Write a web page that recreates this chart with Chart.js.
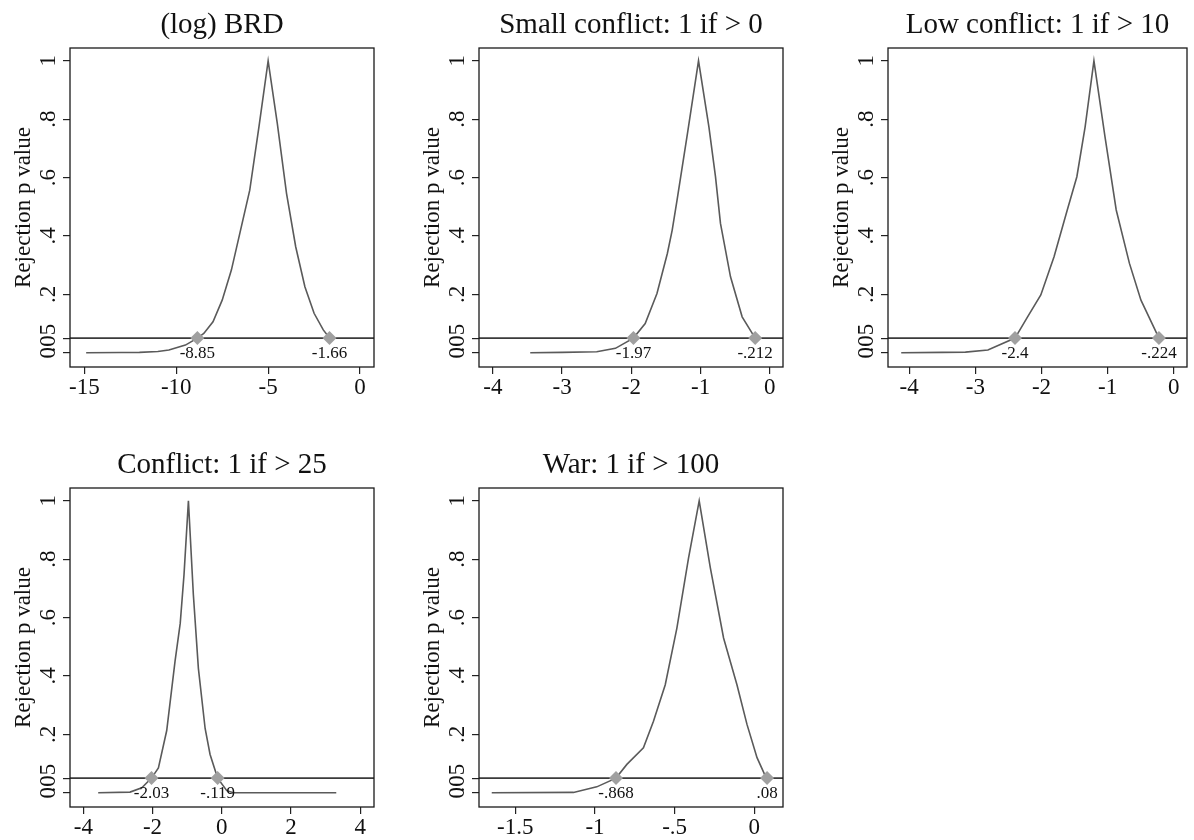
<!DOCTYPE html>
<html>
<head>
<meta charset="utf-8">
<script src="https://cdn.jsdelivr.net/npm/chart.js@4.4.0/dist/chart.umd.min.js"></script>
<style>
  body { margin: 0; background: #fff; width: 1194px; height: 840px; position: relative; overflow: hidden; }
  canvas { position: absolute; }
</style>
</head>
<body>
<canvas id="c1" width="400" height="400" style="left:0;top:0"></canvas>
<canvas id="c2" width="400" height="400" style="left:400px;top:0"></canvas>
<canvas id="c3" width="394" height="400" style="left:800px;top:0"></canvas>
<canvas id="c4" width="400" height="420" style="left:0;top:420px"></canvas>
<canvas id="c5" width="400" height="420" style="left:400px;top:420px"></canvas>
<script>
// y axis is shared by all panels
const yTicks = [0, 0.05, 0.2, 0.4, 0.6, 0.8, 1];
const yTickLabels = ['0', '.05', '.2', '.4', '.6', '.8', '1'];
const cutoff = 0.05;

// (log) BRD
const brdX = [-14.9, -13, -12, -11, -10.4, -9.5, -8.85, -8.5, -8.0, -7.5, -7.0, -6.5, -6.0, -5.5, -5.0, -4.5, -4.0, -3.5, -3.0, -2.5, -2.0, -1.66];
const brdP = [0, 0.0005, 0.001, 0.004, 0.009, 0.026, 0.05, 0.066, 0.106, 0.18, 0.283, 0.42, 0.557, 0.774, 1, 0.785, 0.546, 0.363, 0.226, 0.135, 0.078, 0.05];
const brdCI = [-8.85, -1.66];
const brdTicks = [-15, -10, -5, 0];

// Small conflict
const smallX = [-3.46, -3.0, -2.5, -2.23, -1.97, -1.8, -1.63, -1.48, -1.41, -1.34, -1.19, -1.03, -0.88, -0.785, -0.713, -0.568, -0.40, -0.212];
const smallP = [0, 0.001, 0.003, 0.015, 0.05, 0.10, 0.203, 0.34, 0.42, 0.523, 0.751, 1, 0.774, 0.603, 0.443, 0.26, 0.123, 0.05];
const smallCI = [-1.97, -0.212];
const smallTicks = [-4, -3, -2, -1, 0];

// Low conflict
const lowX = [-4.12, -3.5, -3.15, -2.81, -2.4, -2.21, -2.01, -1.81, -1.61, -1.465, -1.34, -1.207, -1.04, -0.87, -0.67, -0.496, -0.224];
const lowP = [0, 0.001, 0.002, 0.009, 0.05, 0.123, 0.198, 0.329, 0.489, 0.603, 0.774, 1, 0.74, 0.489, 0.306, 0.18, 0.05];
const lowCI = [-2.4, -0.224];
const lowTicks = [-4, -3, -2, -1, 0];

// Conflict
const conflictX = [-3.57, -2.65, -2.31, -2.03, -1.83, -1.59, -1.35, -1.2, -1.09, -0.963, -0.82, -0.675, -0.48, -0.337, -0.119, 0.146, 0.34, 3.31];
const conflictP = [0, 0.002, 0.017, 0.05, 0.085, 0.213, 0.45, 0.58, 0.747, 1, 0.678, 0.426, 0.22, 0.131, 0.05, 0.007, 0, 0];
const conflictCI = [-2.03, -0.119];
const conflictTicks = [-4, -2, 0, 2, 4];

// War
const warX = [-1.648, -1.135, -0.989, -0.868, -0.80, -0.696, -0.633, -0.559, -0.486, -0.413, -0.346, -0.276, -0.193, -0.109, -0.046, 0.017, 0.075];
const warP = [0, 0.001, 0.02, 0.05, 0.097, 0.154, 0.245, 0.37, 0.564, 0.804, 1, 0.77, 0.53, 0.37, 0.234, 0.12, 0.05];
const warCI = [-0.868, 0.08];
const warTicks = [-1.5, -1, -0.5, 0];

const FONT = '"Liberation Serif", "DejaVu Serif", serif';

// stata style numbers: -.5 instead of -0.5
function fmt(v) {
  return String(+v.toFixed(3)).replace(/^(-?)0\./, '$1.');
}

const deco = {
  id: 'deco',
  afterDraw(chart, args, o) {
    const { ctx, chartArea: a, scales: { x, y } } = chart;
    ctx.save();
    ctx.strokeStyle = '#1a1a1a';
    ctx.lineWidth = 1.3;
    ctx.strokeRect(a.left, a.top, a.right - a.left, a.bottom - a.top);

    ctx.fillStyle = '#111';
    ctx.textAlign = 'center';
    ctx.textBaseline = 'alphabetic';
    ctx.font = '29px ' + FONT;
    ctx.fillText(o.title, (a.left + a.right) / 2, a.top - 15);

    // rotated y tick labels
    ctx.font = '23px ' + FONT;
    yTicks.forEach((v, i) => {
      ctx.save();
      ctx.translate(a.left - 15, y.getPixelForValue(v));
      ctx.rotate(-Math.PI / 2);
      ctx.fillText(yTickLabels[i], 0, 0);
      ctx.restore();
    });

    ctx.save();
    ctx.font = '23px ' + FONT;
    ctx.translate(a.left - 40, (a.top + a.bottom) / 2);
    ctx.rotate(-Math.PI / 2);
    ctx.fillText('Rejection p value', 0, 0);
    ctx.restore();

    // labels under the two crossing markers
    ctx.font = '17px ' + FONT;
    o.ci.forEach(v => {
      ctx.fillText(fmt(v), x.getPixelForValue(v), y.getPixelForValue(cutoff) + 20);
    });
    ctx.restore();
  }
};

function panel(id, title, xs, ps, ci, xTicks, xMin, xMax, area) {
  const cv = document.getElementById(id);
  const W = cv.width, H = cv.height;
  new Chart(cv, {
    type: 'scatter',
    data: {
      datasets: [
        {
          data: ci.map(v => ({ x: v, y: cutoff })),
          showLine: false,
          pointStyle: 'rectRot',
          pointRadius: 7,
          backgroundColor: '#a0a0a0',
          borderWidth: 0
        },
        {
          data: xs.map((v, i) => ({ x: v, y: ps[i] })),
          showLine: true,
          borderColor: '#5a5a5a',
          borderWidth: 1.6,
          pointRadius: 0,
          tension: 0
        },
        {
          data: [{ x: xMin, y: cutoff }, { x: xMax, y: cutoff }],
          showLine: true,
          borderColor: '#3a3a3a',
          borderWidth: 1.6,
          pointRadius: 0
        }
      ]
    },
    options: {
      responsive: false,
      animation: false,
      events: [],
      layout: { padding: { left: 0, top: area.t, right: W - area.r, bottom: 0 } },
      plugins: {
        legend: { display: false },
        tooltip: { enabled: false },
        deco: { title: title, ci: ci }
      },
      scales: {
        x: {
          type: 'linear',
          min: xMin,
          max: xMax,
          border: { display: false },
          grid: { drawOnChartArea: false, drawTicks: true, tickLength: 7, color: '#222', lineWidth: 1.2 },
          ticks: {
            color: '#111',
            font: { family: FONT, size: 23 },
            padding: 0,
            autoSkip: false,
            maxRotation: 0,
            callback: v => fmt(v)
          },
          afterBuildTicks: s => { s.ticks = xTicks.map(v => ({ value: v })); },
          afterFit: s => { s.height = H - area.b; }
        },
        y: {
          type: 'linear',
          min: -0.049,
          max: 1.044,
          border: { display: false },
          grid: { drawOnChartArea: false, drawTicks: true, tickLength: 7, color: '#222', lineWidth: 1.2 },
          ticks: { display: false },
          afterBuildTicks: s => { s.ticks = yTicks.map(v => ({ value: v })); },
          afterFit: s => { s.width = area.l; }
        }
      }
    },
    plugins: [deco]
  });
}

panel('c1', '(log) BRD', brdX, brdP, brdCI, brdTicks, -15.78, 0.76, { l: 70, t: 48, r: 374, b: 367 });
panel('c2', 'Small conflict: 1 if > 0', smallX, smallP, smallCI, smallTicks, -4.2, 0.19, { l: 79, t: 48, r: 383, b: 367 });
panel('c3', 'Low conflict: 1 if > 10', lowX, lowP, lowCI, lowTicks, -4.32, 0.2, { l: 88, t: 48, r: 392, b: 367 });
panel('c4', 'Conflict: 1 if > 25', conflictX, conflictP, conflictCI, conflictTicks, -4.385, 4.4, { l: 70, t: 68, r: 374, b: 387 });
panel('c5', 'War: 1 if > 100', warX, warP, warCI, warTicks, -1.728, 0.18, { l: 79, t: 68, r: 383, b: 387 });
</script>
</body>
</html>
